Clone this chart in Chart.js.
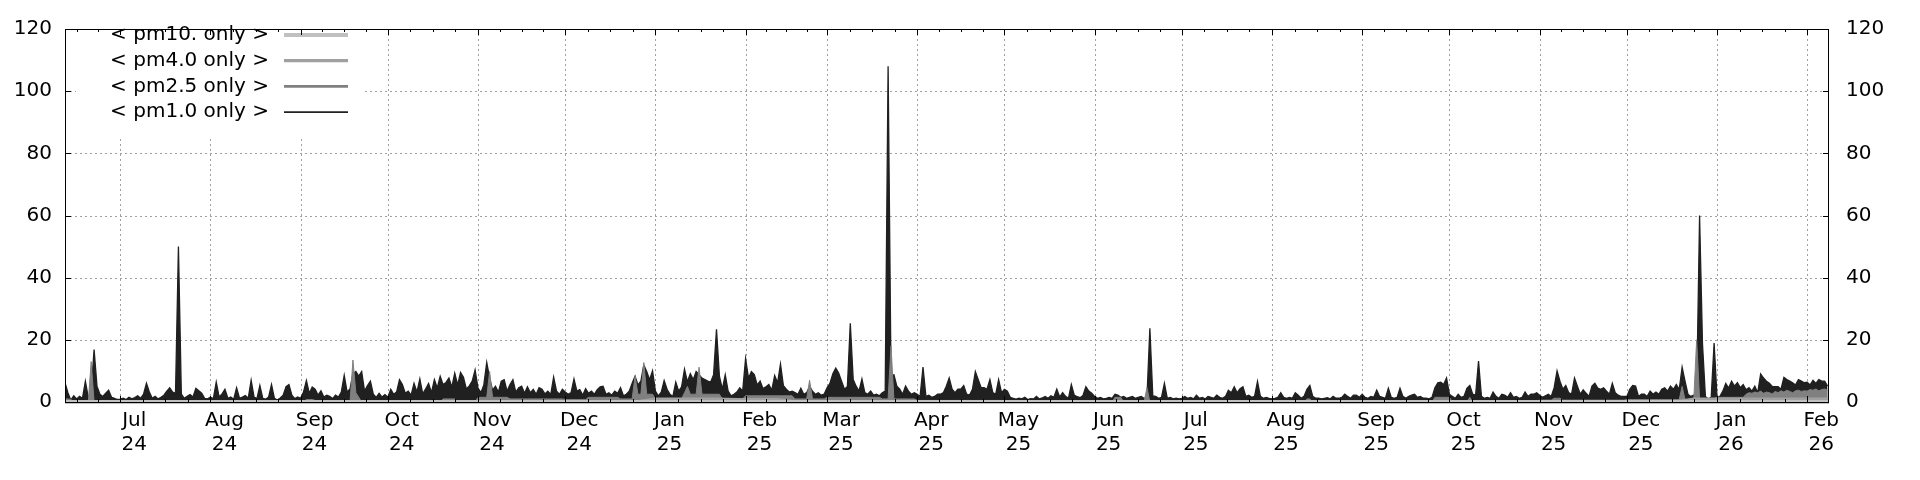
<!DOCTYPE html>
<html>
<head>
<meta charset="utf-8">
<script src="https://cdn.jsdelivr.net/npm/chart.js@4.4.1/dist/chart.umd.min.js"></script>
<style>
  html, body { margin: 0; padding: 0; background: #fff; }
  canvas { display: block; }
</style>
</head>
<body>
<canvas id="c" width="1920" height="480"></canvas>
<script>
'use strict';

// x = days since 2024-06-12, one value per day (pm1, pm2.5) and per week (pm4 / pm10)

// ── Ticks ────────────────────────────────────────────────────────────────────
const tickDays   = [19, 50, 81, 111, 142, 172, 203, 234, 262, 293, 323, 354, 384, 415, 446, 476, 507, 537, 568, 599];
const tickMonths = ['Jul','Aug','Sep','Oct','Nov','Dec','Jan','Feb','Mar','Apr','May','Jun','Jul','Aug','Sep','Oct','Nov','Dec','Jan','Feb'];
const tickYears  = ['24','24','24','24','24','24','25','25','25','25','25','25','25','25','25','25','25','25','26','26'];
const minorEdges = [-11, 627];   // Jun 1 2024, Mar 1 2026 (for the quarter ticks at both ends)
const yTicks     = [0, 20, 40, 60, 80, 100, 120];

// ── Series ───────────────────────────────────────────────────────────────────
const pm1Only = [
  // Jun 24 (12-30)
  6.2, 3, 0.6, 2, 1, 1.8, 1.2, 6.7, 1.5, 3.2, 16.9, 5.1, 2.5, 1.8, 2.8, 3.8, 1.5, 1.2, 0.8,
  // Jul 24
  0.9, 1.2, 0.8, 1.5, 1, 1.4, 2, 1.2, 2.5, 6, 3.2, 1.2, 1.8, 1, 1.5, 2.2, 3.5, 4.6, 3.2, 2.8, 50, 2.5, 1.2, 1.8, 2.4, 1.6, 4.4, 3.6, 2.8, 1.2, 1,
  // Aug 24
  1.5, 1.1, 6.4, 1.6, 2.6, 4.1, 1.2, 1.6, 0.9, 4.6, 1.2, 1.6, 2.1, 1.2, 7, 1.6, 1.1, 5.3, 1.2, 0.9, 1.6, 5.6, 1.2, 0.6, 1.3, 2.2, 4.9, 5.6, 2.2, 1.1, 1.6,
  // Sep 24
  1.2, 3.2, 6.9, 2.8, 4.8, 4.1, 2.2, 3.6, 1.6, 2.2, 1.8, 1.1, 2.2, 1.6, 3.2, 8.6, 3.2, 4.2, 9.1, 9.8, 8.3, 9.8, 3.5, 5.3, 6.7, 2.5, 1.5, 2.8, 1.6, 2.4,
  // Oct 24
  1.5, 4.1, 2.5, 3.2, 7.2, 5.6, 2.8, 3.5, 2.2, 6, 3.2, 7.4, 2.6, 4.2, 6, 3, 7.2, 4.5, 8.3, 5.6, 6.3, 7.7, 4.8, 9.3, 5.5, 9.5, 8, 4.2, 5.2, 6.7, 10.3,
  // Nov 24
  4.5, 3, 5.5, 12.7, 7.7, 3.8, 5.1, 3.2, 6.7, 7.2, 3.5, 5.6, 7.2, 3.2, 4.6, 5.1, 2.8, 4.9, 3, 4.1, 2.5, 4.6, 4.1, 2.6, 3.5, 2.4, 8, 3.5, 2.5, 4.1,
  // Dec 24
  3.2, 2.5, 3, 7.4, 3.5, 4, 2.2, 4.3, 2.8, 3.5, 2.5, 4, 4.9, 5.1, 2.5, 3, 2.2, 3.5, 2.8, 4.6, 2, 2.5, 3.5, 6, 8.3, 5.5, 6.7, 11.9, 9.8, 7.2, 10,
  // Jan 25
  3.5, 2, 3.2, 6.9, 4.1, 2.5, 1.8, 6.4, 3.5, 4.9, 10.6, 6.5, 9.1, 7.2, 9.8, 8.8, 7.7, 7.2, 6.7, 6.4, 8.8, 23.4, 8.3, 4.1, 8.8, 3.5, 2, 2.5, 3.2, 4.6, 3.5,
  // Feb 25
  14, 7.7, 9.8, 8.8, 5.5, 6.7, 4.3, 4.9, 5.6, 3.8, 8.5, 6.2, 12.2, 5.3, 4.1, 3.2, 3.5, 3, 2.5, 4.4, 2.5, 3, 5, 3.5, 2.5, 3, 2.2, 2.5,
  // Mar 25
  4.6, 6, 9.1, 10.9, 9.3, 6.7, 4.1, 5, 25.3, 7.2, 5.1, 3.5, 7.4, 3, 2.5, 3.5, 2.2, 2.5, 2, 3, 3.5, 108, 8.3, 8.8, 5.1, 4.1, 2.5, 5.1, 3.5, 2.5, 3,
  // Apr 25
  2.5, 1.8, 11.2, 1.8, 2.2, 1.5, 1.8, 2.5, 2.5, 3, 5.1, 7.7, 4.1, 3, 4.1, 4.1, 5.3, 2.5, 2.2, 4.1, 9.8, 7.2, 4.6, 4.6, 4.1, 7.2, 3, 2.5, 7.2, 3,
  // May 25
  4.1, 3.5, 1.5, 1.2, 0.9, 1.2, 1, 1.5, 0.8, 1.1, 1, 1.8, 1, 1.3, 1.8, 1.2, 2, 1.5, 4.1, 1.6, 3, 1.8, 1.2, 5.6, 2.2, 1.7, 1.4, 2.1, 4.9, 3.5, 2.8,
  // Jun 25
  1.8, 1.2, 1.5, 1, 1.2, 1.5, 1.2, 2.5, 2.2, 1.5, 1.8, 1.2, 1.5, 1.8, 1.2, 1.5, 1.8, 1.2, 1.5, 23.7, 2, 1.8, 1.2, 1.5, 6, 1.2, 1.5, 1, 1.2, 1,
  // Jul 25
  1.2, 1.8, 1.2, 1.5, 1, 2.2, 1.2, 1.5, 1, 1.8, 1.5, 1.2, 2.2, 1.5, 1.2, 1.8, 3.8, 3, 4.9, 3, 4.3, 4.9, 1.8, 2.2, 1.5, 1.8, 6.6, 1.8, 1.2, 1.5, 1.2,
  // Aug 25
  1, 1.2, 1.5, 3, 1.5, 1.2, 1.5, 1.2, 3, 2.2, 1.2, 1.8, 4.1, 5.3, 1.8, 1.2, 1.2, 1, 1.2, 1.4, 1, 1.8, 1.2, 1.2, 1.5, 2.5, 1.8, 1.2, 2.2, 2.2, 1.5,
  // Sep 25
  2.5, 1.5, 1.2, 1.8, 1.5, 3.8, 1.8, 1.5, 1.2, 4.4, 1.5, 1.2, 1.5, 4.4, 1.8, 1.2, 1.8, 2.2, 2.5, 1.5, 1.8, 1.2, 1.2, 1, 1.5, 4.6, 6.2, 6.4, 5.6, 7.7,
  // Oct 25
  2.5, 1.8, 1.2, 2.5, 1.5, 1.8, 4.4, 5.3, 2.5, 2.2, 13.2, 1.8, 1.2, 1.5, 1.2, 3.2, 1.8, 1.2, 2.5, 2.2, 1.5, 3, 1.5, 1.8, 1.2, 1.5, 3.2, 1.8, 2.5, 2.5, 3,
  // Nov 25
  2.2, 1.5, 2, 2.5, 1.8, 4.6, 10, 6.7, 4.1, 5.3, 3, 2.5, 7.7, 5.1, 2.5, 3.9, 2.8, 1.8, 5.1, 6, 4.5, 4.1, 4.6, 3.5, 2.5, 6, 3, 2.2, 1.8, 1.8,
  // Dec 25
  1.8, 4.1, 5.3, 5.1, 1.8, 2.5, 2.5, 1.8, 3.5, 2.5, 3.2, 2.5, 4.1, 4.6, 3.5, 5.1, 4.1, 5.6, 4, 11.2, 6.7, 2.5, 1.8, 2.2, 2.5, 60, 18.7, 1.8, 1, 1.5, 19,
  // Jan 26
  1.5, 1.8, 3.5, 6, 4.5, 6.7, 5.1, 6.2, 4.6, 5.6, 3.9, 4.6, 3.5, 5.1, 3, 9, 7.7, 6.7, 6, 5, 4.9, 4.9, 4.1, 7.9, 7.2, 6.7, 6.2, 5.5, 7.2, 6.7, 6.2,
  // Feb 26 (1-7)
  6.4, 5.5, 7, 6, 7.2, 6.7, 6.7, 5.1,
];

const pm25Only = [
  // Jun 24
  1, 1, 0.8, 0, 0, 0, 0, 0, 0, 13, 0, 0, 0, 0, 0, 0, 0, 0, 0,
  // Jul 24
  0, 0, 0, 0, 0, 0, 0, 0, 0, 0, 0, 0, 0, 0, 0, 0, 0, 0, 0, 0, 0, 0, 0, 0, 0, 0, 0, 0, 0, 0, 0,
  // Aug 24
  0, 0, 0, 0, 0, 0, 0, 0, 0, 0, 0, 0, 0, 0, 0, 0, 0, 0, 0, 0, 0, 0, 0, 0, 0, 0, 0, 0, 0, 0, 0,
  // Sep 24
  0, 0, 0.8, 0.8, 0.8, 0.5, 0, 0, 0, 0, 0, 0, 0, 0, 0, 0, 0, 0, 13.5, 3, 1.5, 0, 0, 0, 0, 0, 0, 0, 0, 0,
  // Oct 24
  0, 0, 0, 0, 0, 0, 0, 0, 0, 0, 0, 0, 0, 0, 0, 0, 0, 0, 0, 1, 1, 1, 1, 1, 0, 0, 0, 0, 0, 0, 0,
  // Nov 24
  1.5, 1.5, 1.5, 1.5, 9.8, 1.5, 1.5, 1.5, 1.5, 1.5, 1.5, 1, 1, 1, 1, 1, 1, 1, 1, 1, 1, 1, 1, 1, 1, 1, 1, 1, 1, 1,
  // Dec 24
  0.8, 0.8, 0.8, 0.8, 0.8, 0.8, 0.8, 0.8, 1.5, 1.5, 1.5, 1.5, 1.5, 1.5, 1.5, 1.5, 1.5, 1.5, 1.5, 1, 1, 1, 1, 1, 8.3, 2.5, 2.5, 12.7, 2.5, 2.5, 2.5,
  // Jan 25
  1, 1, 1, 1, 1, 1, 1, 1, 1, 1, 3, 5, 2.5, 2.5, 2.5, 11.2, 2.5, 2.5, 2.5, 2.5, 2.5, 2.5, 2.5, 1, 1, 1, 1, 1, 1, 1, 1,
  // Feb 25
  2, 2, 2, 2, 2, 2, 2, 2, 2, 2, 2, 2, 2, 2, 2, 2, 2, 1, 1, 1, 1, 1, 7, 1, 1, 1, 1, 1,
  // Mar 25
  1.5, 1.5, 1.5, 1.5, 1.5, 1.5, 1.5, 1.5, 1.5, 1.5, 1.5, 1.5, 1.5, 1.5, 1.5, 1.5, 1.5, 1.5, 1.5, 1, 1, 1, 18, 1, 1, 1, 1, 1, 1, 1, 1,
  // Apr 25
  0.5, 0.5, 0.5, 0.5, 0.5, 0.5, 0.5, 0.5, 0.5, 0.5, 0.5, 0.5, 0.5, 0.5, 0.5, 0.5, 0.5, 0.5, 0.5, 0.5, 0.5, 0.5, 0.5, 0.5, 0.5, 0.5, 0.5, 0.5, 0.5, 0.5,
  // May 25
  0, 0, 0, 0, 0, 0, 0, 0, 0, 0, 0, 0, 0, 0, 0, 0, 0, 0, 0, 0, 0, 0, 0, 0, 0, 0, 0, 0, 0, 0, 0,
  // Jun 25
  0, 0, 0, 0, 0, 0, 0, 1.5, 1.5, 1.5, 0, 0, 0, 0, 0, 0, 0, 0, 4.6, 0, 0, 0, 0, 0, 0, 0, 0, 0, 0, 0,
  // Jul 25
  0, 0, 0, 0, 0, 0, 0, 0, 0, 0, 0, 0, 0, 0, 0, 0, 0, 0, 0, 0, 0, 0, 0, 0, 0, 0, 0, 0, 0, 0, 0,
  // Aug 25
  0, 0, 0, 0, 0, 0, 0, 0, 0, 0, 0, 0, 1, 1, 0, 0, 0, 0, 0, 0, 0, 0, 0, 0, 0, 0, 0, 0, 0, 0, 0,
  // Sep 25
  0, 0, 0, 0, 0, 0, 0, 0, 0, 0, 0, 0, 0, 0, 0, 0, 0, 0, 0, 0, 0, 0, 0, 0, 0, 1.5, 1.5, 1.5, 1.5, 1.5,
  // Oct 25
  1.5, 0, 0, 0, 0, 0, 0, 1.5, 0, 0, 0, 0, 0, 0, 0, 0, 0, 0, 0, 0, 0, 0, 0, 0, 0, 0, 0, 0, 0, 0, 0,
  // Nov 25
  0.6, 0.6, 0.6, 0.6, 0.6, 1.2, 1.2, 1.2, 0.6, 0.6, 0.6, 0.6, 0.6, 0.6, 0.6, 0.6, 0.6, 0.6, 0.6, 0.6, 0.6, 0.6, 0.6, 0.6, 0.6, 0.6, 0.6, 0.6, 0.6, 0.6,
  // Dec 25
  0.8, 0.8, 0.8, 0.8, 0.8, 0.8, 0.8, 0.8, 0.8, 0.8, 0.8, 0.8, 0.8, 0.8, 0.8, 0.8, 0.8, 0.8, 0.8, 5, 0.8, 0.8, 0.8, 0.8, 20, 1, 1, 1, 1, 1, 1,
  // Jan 26
  1.5, 1.5, 1.5, 1.5, 1.5, 1.5, 1.5, 1.5, 1.5, 1.5, 2.5, 3, 2.8, 3.2, 3, 3.5, 2.8, 3.2, 3, 2.6, 3.4, 3, 3.6, 3.2, 3.8, 3.4, 3, 3.6, 3.8, 3.4, 3.6,
  // Feb 26
  3.5, 4, 3.8, 4.2, 3.6, 4, 4.2, 3.8,
];

// weekly (every 7 days)
const pm4Only = [
  0, 0, 0, 0, 0, 0, 0, 0, 0, 0, 0, 0, 0, 0, 0, 0, 0, 0, 0, 0, 0, 0, 0, 0, 0, 0, 0, 0, 0,
  1, 1, 1, 1, 0.8, 0.8, 0.8, 0, 0, 0, 0, 0, 0, 0, 0, 0, 0, 0, 0, 0, 0, 0, 0, 0, 0, 0, 0, 0, 0,
  0, 0, 0, 0, 0, 0, 0, 0, 0, 0, 0, 0, 0, 0, 0, 0, 0, 0, 0, 0, 0, 0, 1, 1, 1, 1, 1, 1, 1, 1,
];
const pm10Only = [
  0, 0, 0, 0, 0, 0, 0, 0, 0, 0, 0, 0, 0, 0, 0, 0, 0, 0, 0, 0, 0, 0, 0, 0, 0, 0, 0, 0, 0,
  0, 0, 0, 0, 0, 0, 0, 0, 0, 0, 0, 0, 0, 0, 0, 0, 0, 0, 0, 0, 0, 0, 0, 0, 0, 0, 0, 0, 0,
  0, 0, 0, 0, 0, 0, 0, 0, 0, 0, 0, 0, 0, 0, 0, 0, 0, 0, 0, 0, 0, 0, 0, 0, 0, 0, 0, 0, 0, 0,
];

// ── Style ────────────────────────────────────────────────────────────────────
const FONT = 'DejaVu Sans';
const legendWidths = [4, 3.3, 2.7, 1.7];

const daily  = arr => arr.map((v, i) => ({ x: i, y: v }));
const weekly = arr => arr.map((v, i) => ({ x: i * 7, y: v }));

function vline(ctx, x, y0, y1) { ctx.beginPath(); ctx.moveTo(x, y0); ctx.lineTo(x, y1); ctx.stroke(); }
function hline(ctx, y, x0, x1) { ctx.beginPath(); ctx.moveTo(x0, y); ctx.lineTo(x1, y); ctx.stroke(); }

// grille pointillée (sous les courbes)
const gridPlugin = {
  id: 'gnuGrid',
  beforeDatasetsDraw(chart) {
    const { ctx, chartArea: a, scales: { x, y } } = chart;
    ctx.save();
    ctx.strokeStyle = '#a0a0a0';
    ctx.lineWidth = 1;
    ctx.setLineDash([2, 3]);
    tickDays.forEach(d => vline(ctx, Math.round(x.getPixelForValue(d)) + 0.5, a.top, a.bottom));
    yTicks.slice(1, -1).forEach(v => hline(ctx, Math.round(y.getPixelForValue(v)) + 0.5, a.left, a.right));
    ctx.restore();
  },
};

// légende, cadre et graduations (au-dessus)
const framePlugin = {
  id: 'gnuFrame',
  afterDatasetsDraw(chart) {
    const { ctx, chartArea: a, scales: { x, y } } = chart;
    ctx.save();

    // légende
    ctx.fillStyle = '#fff';
    ctx.fillRect(a.left + 11, a.top + 1, 286, 108);
    ctx.font = `20px "${FONT}"`;
    ctx.textAlign = 'right';
    ctx.textBaseline = 'middle';
    chart.data.datasets.forEach((ds, i) => {
      const yy = 35 + i * 25.7;
      ctx.fillStyle = '#000';
      ctx.fillText(ds.label, 269, yy);
      ctx.strokeStyle = ds.borderColor;
      ctx.lineWidth = legendWidths[i];
      hline(ctx, yy, 284, 348);
    });

    // cadre
    ctx.strokeStyle = '#000';
    ctx.lineWidth = 1;
    ctx.strokeRect(a.left + 0.5, a.top + 0.5, a.right - a.left - 1, a.bottom - a.top);

    // graduations x (mois + quarts)
    const edges = [minorEdges[0], ...tickDays, minorEdges[1]];
    for (let i = 0; i < edges.length - 1; i++) {
      for (let k = 0; k < 4; k++) {
        const d = edges[i] + (edges[i + 1] - edges[i]) * k / 4;
        if (d < x.min || d > x.max) continue;
        const px = Math.round(x.getPixelForValue(d)) + 0.5;
        const len = k === 0 ? 6 : 3;
        vline(ctx, px, a.bottom, a.bottom - len);
        vline(ctx, px, a.top, a.top + len);
      }
    }
    // graduations y
    yTicks.forEach(v => {
      const py = Math.round(y.getPixelForValue(v)) + 0.5;
      hline(ctx, py, a.left, a.left + 6);
      hline(ctx, py, a.right, a.right - 6);
    });
    ctx.restore();
  },
};

const tickFont = { family: FONT, size: 20, lineHeight: 1.2 };

new Chart(document.getElementById('c'), {
  type: 'line',
  data: {
    datasets: [
      { label: '< pm10. only >', data: weekly(pm10Only), borderColor: '#c0c0c0', borderWidth: 4, fill: false,
        clip: { left: 0, top: 0, right: 0, bottom: 4 } },
      { label: '< pm4.0 only >', data: weekly(pm4Only), borderColor: '#a0a0a0', borderWidth: 3, fill: false },
      { label: '< pm2.5 only >', data: daily(pm25Only), borderColor: '#808080', backgroundColor: '#808080',
        borderWidth: 1, fill: 'origin' },
      { label: '< pm1.0 only >', data: daily(pm1Only), borderColor: '#202020', backgroundColor: '#202020',
        borderWidth: 1.3, fill: 'origin' },
    ],
  },
  options: {
    responsive: false,
    animation: false,
    events: [],
    elements: { point: { radius: 0 }, line: { tension: 0 } },
    layout: { padding: { top: 20, left: 0, right: 0, bottom: 0 } },
    plugins: { legend: { display: false }, tooltip: { enabled: false } },
    scales: {
      x: {
        type: 'linear',
        min: 0, max: 606.5,
        afterBuildTicks: s => { s.ticks = tickDays.map(v => ({ value: v })); },
        afterFit: s => { s.height = 78; },
        grid: { display: false, drawTicks: false },
        border: { display: false },
        ticks: {
          autoSkip: false, maxRotation: 0, minRotation: 0,
          padding: 7, labelOffset: 14,
          color: '#000', font: tickFont,
          callback: (v, i) => [tickMonths[i], tickYears[i]],
        },
      },
      y: {
        position: 'left',
        min: 0, max: 120,
        afterFit: s => { s.width = 65; },
        grid: { display: false, drawTicks: false },
        border: { display: false },
        ticks: { stepSize: 20, padding: 13, color: '#000', font: tickFont },
      },
      y2: {
        position: 'right',
        min: 0, max: 120,
        afterFit: s => { s.width = 91; },
        grid: { display: false, drawTicks: false },
        border: { display: false },
        ticks: { stepSize: 20, padding: 17, color: '#000', font: tickFont },
      },
    },
  },
  plugins: [gridPlugin, framePlugin],
});
</script>
</body>
</html>
